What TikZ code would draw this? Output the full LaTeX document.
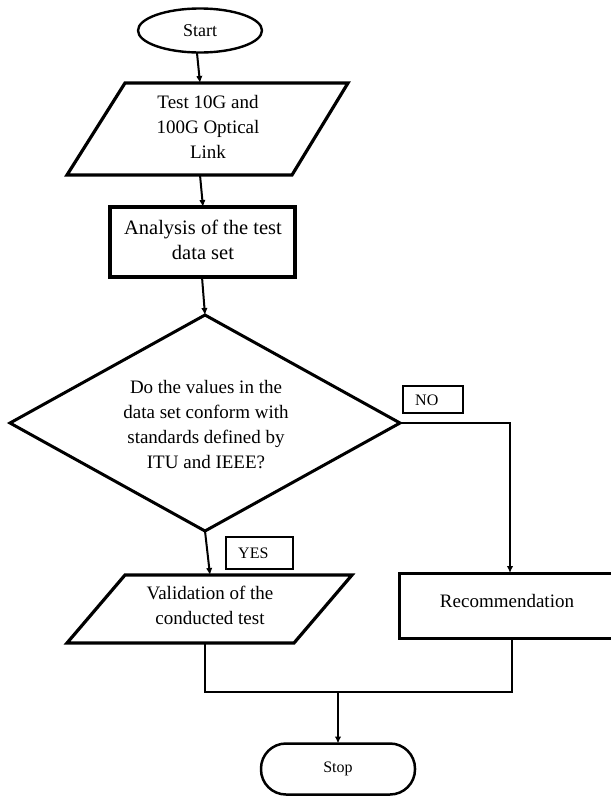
\documentclass[tikz,border=0pt]{standalone}
\usepackage{fontspec}
\setmainfont{Liberation Serif}
\usetikzlibrary{arrows.meta,shapes.geometric}
\tikzset{
  thickshape/.style={draw=black, line width=3.2pt, line join=miter},
  txt/.style={inner sep=0pt, align=center, font=\fontsize{19}{25}\selectfont},
  lbl/.style={draw=black, line width=1.3pt, inner sep=0pt},
  conn/.style={line width=2pt},
  arr/.style={conn, -{Latex[length=7pt,width=6.5pt]}},
}
\begin{document}
\begin{tikzpicture}[x=1pt,y=-1pt]
\useasboundingbox (0,0) rectangle (611,796);
% Start
\node[draw, ellipse, line width=2.4pt, minimum width=124pt, minimum height=44pt, inner sep=0pt,
      font=\fontsize{18}{22}\selectfont] (start) at (200,30.5) {Start};
% Parallelogram 1
\coordinate (p1tl) at (125,83); \coordinate (p1tr) at (348,83);
\coordinate (p1br) at (292,175); \coordinate (p1bl) at (67,175);
\draw[thickshape] (p1tl) -- (p1tr) -- (p1br) -- (p1bl) -- cycle;
\node[txt] (p1) at (208,127) {Test 10G and\\100G Optical\\Link};
% Rectangle
\node[thickshape, line width=3.5pt, minimum width=185pt, minimum height=70pt, inner sep=0pt] (rect) at (202.5,242) {};
\node[txt, font=\fontsize{20.5}{25}\selectfont] (rtxt) at (203,240) {Analysis of the test\\data set};
% Diamond
\coordinate (dt) at (205,315); \coordinate (dr) at (400,423);
\coordinate (db) at (205,531); \coordinate (dl) at (10,423);
\draw[thickshape, line width=3pt] (dt) -- (dr) -- (db) -- (dl) -- cycle;
\node[txt] (dtxt) at (206,424.5) {Do the values in the\\data set conform with\\standards defined by\\ITU and IEEE?};
% NO label
\node[lbl, minimum width=60pt, minimum height=27pt] (nobox) at (433,399.5) {};
\node[anchor=west, inner sep=0pt, font=\fontsize{16}{18}\selectfont] (notxt) at (415,400) {NO};
% Recommendation
\node[thickshape, line width=3pt, minimum width=217pt, minimum height=65pt, inner sep=0pt] (rec) at (507.5,605.5) {};
\node[txt] (rtx) at (507,601) {Recommendation};
% YES label
\node[lbl, minimum width=67pt, minimum height=32pt] (yesbox) at (259.5,553) {};
\node[anchor=west, inner sep=0pt, font=\fontsize{16}{18}\selectfont] (yestxt) at (238,553.5) {YES};
% Parallelogram 2
\coordinate (p2tl) at (125,575); \coordinate (p2tr) at (352,575);
\coordinate (p2br) at (294,643); \coordinate (p2bl) at (67,643);
\draw[thickshape] (p2tl) -- (p2tr) -- (p2br) -- (p2bl) -- cycle;
\node[txt] (p2) at (210,605.5) {Validation of the\\conducted test};
% Stop
\node[draw, line width=2.5pt, rounded corners=25pt, minimum width=154pt, minimum height=51pt, inner sep=0pt,
      font=\fontsize{16}{18}\selectfont] (stop) at (338,769) {Stop};
% Connectors
\coordinate (a1s) at (197,53); \coordinate (a1e) at (200,83);
\coordinate (a2s) at (200,175); \coordinate (a2e) at (203,207);
\coordinate (a3s) at (202,277);
\coordinate (yesend) at (210,575);
\coordinate (noc) at (510,423); \coordinate (nend) at (510,573);
\coordinate (v1) at (205,643); \coordinate (v1b) at (205,692);
\coordinate (v2) at (512,638); \coordinate (v2b) at (512,692);
\coordinate (mid) at (338,692); \coordinate (send) at (338,743.5);
\draw[arr] (a1s) -- (a1e);
\draw[arr] (a2s) -- (a2e);
\draw[arr] (a3s) -- (dt);
\draw[arr] (db) -- (yesend);
\draw[arr] (dr) -- (noc) -- (nend);
\draw[conn, line join=miter] (v1) -- (v1b) -- (v2b) -- (v2);
\draw[arr] (mid) -- (send);
\end{tikzpicture}
\end{document}
